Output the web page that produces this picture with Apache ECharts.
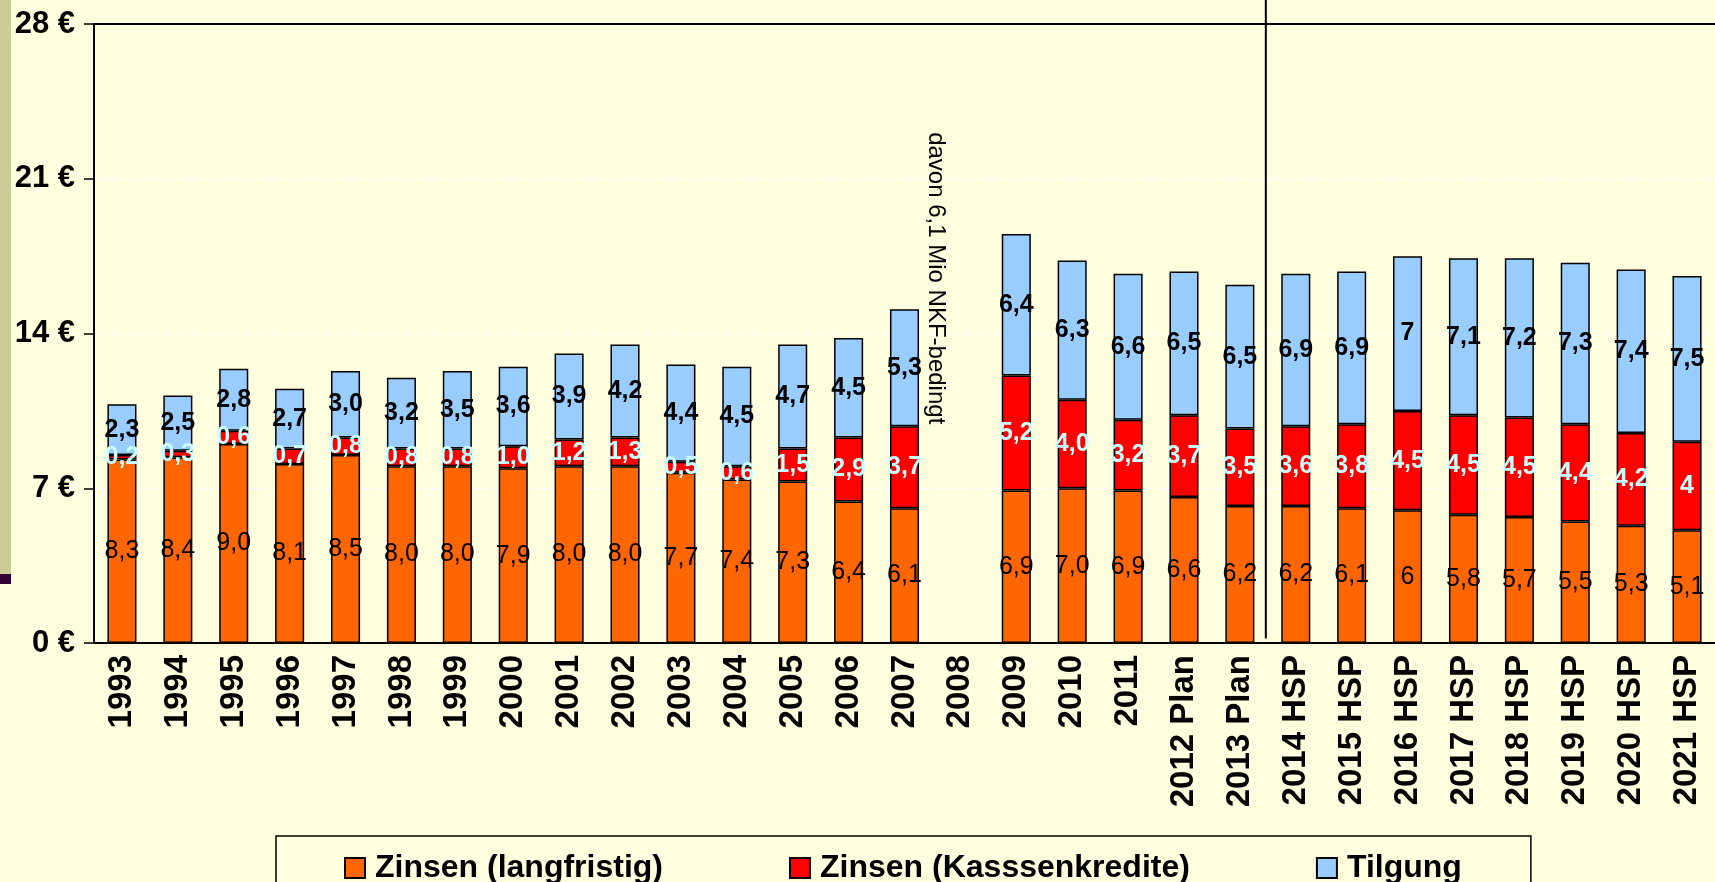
<!DOCTYPE html>
<html>
<head>
<meta charset="utf-8">
<script src="https://cdn.jsdelivr.net/npm/echarts@6/dist/echarts.min.js"></script>
<style>
  html, body { margin: 0; padding: 0; background: #FFFFE0; }
  #chart { width: 1715px; height: 882px; }
</style>
</head>
<body>
<div id="chart"></div>
<script>
// categories on the x axis (2008 has no data)
const categories = ['1993', '1994', '1995', '1996', '1997', '1998', '1999', '2000', '2001', '2002',
  '2003', '2004', '2005', '2006', '2007', '2008', '2009', '2010', '2011', '2012 Plan', '2013 Plan',
  '2014 HSP', '2015 HSP', '2016 HSP', '2017 HSP', '2018 HSP', '2019 HSP', '2020 HSP', '2021 HSP'];

// Zinsen (langfristig)
const zinsenLang = [8.3, 8.4, 9.0, 8.1, 8.5, 8.0, 8.0, 7.9, 8.0, 8.0, 7.7, 7.4, 7.3, 6.4, 6.1, null,
  6.9, 7.0, 6.9, 6.6, 6.2, 6.2, 6.1, 6, 5.8, 5.7, 5.5, 5.3, 5.1];
// Zinsen (Kasssenkredite)
const zinsenKasse = [0.2, 0.3, 0.6, 0.7, 0.8, 0.8, 0.8, 1.0, 1.2, 1.3, 0.5, 0.6, 1.5, 2.9, 3.7, null,
  5.2, 4.0, 3.2, 3.7, 3.5, 3.6, 3.8, 4.5, 4.5, 4.5, 4.4, 4.2, 4];
// Tilgung
const tilgung = [2.3, 2.5, 2.8, 2.7, 3.0, 3.2, 3.5, 3.6, 3.9, 4.2, 4.4, 4.5, 4.7, 4.5, 5.3, null,
  6.4, 6.3, 6.6, 6.5, 6.5, 6.9, 6.9, 7, 7.1, 7.2, 7.3, 7.4, 7.5];

const noteText = 'davon 6,1 Mio NKF-bedingt';
const FONT = '"Liberation Sans", Arial, sans-serif';

// HSP values are shown as typed (6, 7, 4), older years always with one decimal
const fmt = (p) => {
  if (p.value == null) return '';
  const s = p.name.indexOf('HSP') >= 0 ? String(p.value) : p.value.toFixed(1);
  return s.replace('.', ',');
};

const barBase = {
  type: 'bar',
  stack: 'total',
  barWidth: '52%',
  itemStyle: { borderColor: '#000', borderWidth: 1.5 }
};

var chartDom = document.getElementById('chart');
var myChart = echarts.init(chartDom);

var option = {
  backgroundColor: '#FFFFE0',
  animation: false,
  textStyle: { fontFamily: FONT },
  grid: { left: 94, top: 24, width: 1623, height: 619 },
  legend: {
    data: ['Zinsen (langfristig)', 'Zinsen (Kasssenkredite)', 'Tilgung'],
    left: 276, top: 836,
    padding: [16, 69, 40, 68],
    borderColor: '#000', borderWidth: 1.5,
    itemWidth: 20, itemHeight: 20, itemGap: 126,
    icon: 'rect',
    textStyle: { fontFamily: FONT, fontSize: 32, fontWeight: 'bold', color: '#000', lineHeight: 20, padding: [0, 0, 0, 5] }
  },
  xAxis: {
    type: 'category',
    data: categories,
    axisLine: { lineStyle: { color: '#000', width: 2 } },
    axisTick: { length: 10, lineStyle: { color: '#000', width: 1.5 } },
    axisLabel: { rotate: 90, margin: 12, color: '#000', fontFamily: FONT, fontSize: 33, fontWeight: 'bold', interval: 0 }
  },
  yAxis: {
    type: 'value',
    min: 0, max: 28, interval: 7,
    axisLine: { show: true, lineStyle: { color: '#000', width: 2 } },
    axisTick: { show: true, length: 10, lineStyle: { color: '#000', width: 1.5 } },
    axisLabel: { formatter: (v) => v + ' €', margin: 19, color: '#000', fontFamily: FONT, fontSize: 31, fontWeight: 'bold' },
    splitLine: { lineStyle: { color: '#ffffff', type: [5, 5], width: 1.5 } }
  },
  series: [
    Object.assign({}, barBase, {
      name: 'Zinsen (langfristig)',
      data: zinsenLang,
      itemStyle: Object.assign({}, barBase.itemStyle, { color: '#FF6600' }),
      label: { show: true, position: 'inside', formatter: fmt, color: '#000', fontFamily: FONT, fontSize: 25 },
      // solid frame line at the top of the plot area
      markLine: {
        silent: true, symbol: 'none', label: { show: false },
        lineStyle: { color: '#000', type: 'solid', width: 2 },
        data: [{ yAxis: 28 }]
      }
    }),
    Object.assign({}, barBase, {
      name: 'Zinsen (Kasssenkredite)',
      data: zinsenKasse,
      itemStyle: Object.assign({}, barBase.itemStyle, { color: '#FF0000' }),
      label: { show: true, position: 'inside', formatter: fmt, color: '#CCFFFF', fontFamily: FONT, fontSize: 25, fontWeight: 'bold' }
    }),
    Object.assign({}, barBase, {
      name: 'Tilgung',
      data: tilgung,
      itemStyle: Object.assign({}, barBase.itemStyle, { color: '#99CCFF' }),
      label: { show: true, position: 'inside', formatter: fmt, color: '#000', fontFamily: FONT, fontSize: 25, fontWeight: 'bold' }
    })
  ]
};

myChart.setOption(option);

// separator between Plan and HSP years, and the 2008 note, placed via the axes
const px = (cat, v) => myChart.convertToPixel({ gridIndex: 0 }, [cat, v]);
const sepX = (px('2013 Plan', 0)[0] + px('2014 HSP', 0)[0]) / 2 - 2;
const sepBottom = px('2014 HSP', 0.2)[1];
const noteX = (px('2007', 0)[0] + px('2008', 0)[0]) / 2 + 3;
const noteY = px('2008', 16.5)[1];

myChart.setOption({
  graphic: [
    // slide decoration on the left edge
    { type: 'rect', shape: { x: 0, y: 0, width: 11, height: 574 }, style: { fill: '#CCCC99' } },
    { type: 'rect', shape: { x: 0, y: 574, width: 11, height: 10 }, style: { fill: '#330033' } },
    { type: 'line', shape: { x1: sepX, y1: 0, x2: sepX, y2: sepBottom }, style: { stroke: '#000', lineWidth: 2 } },
    {
      type: 'text', x: noteX, y: noteY, rotation: -Math.PI / 2,
      style: { text: noteText, font: '24px ' + FONT, fill: '#000', align: 'center', verticalAlign: 'middle' }
    }
  ]
});
</script>
</body>
</html>
